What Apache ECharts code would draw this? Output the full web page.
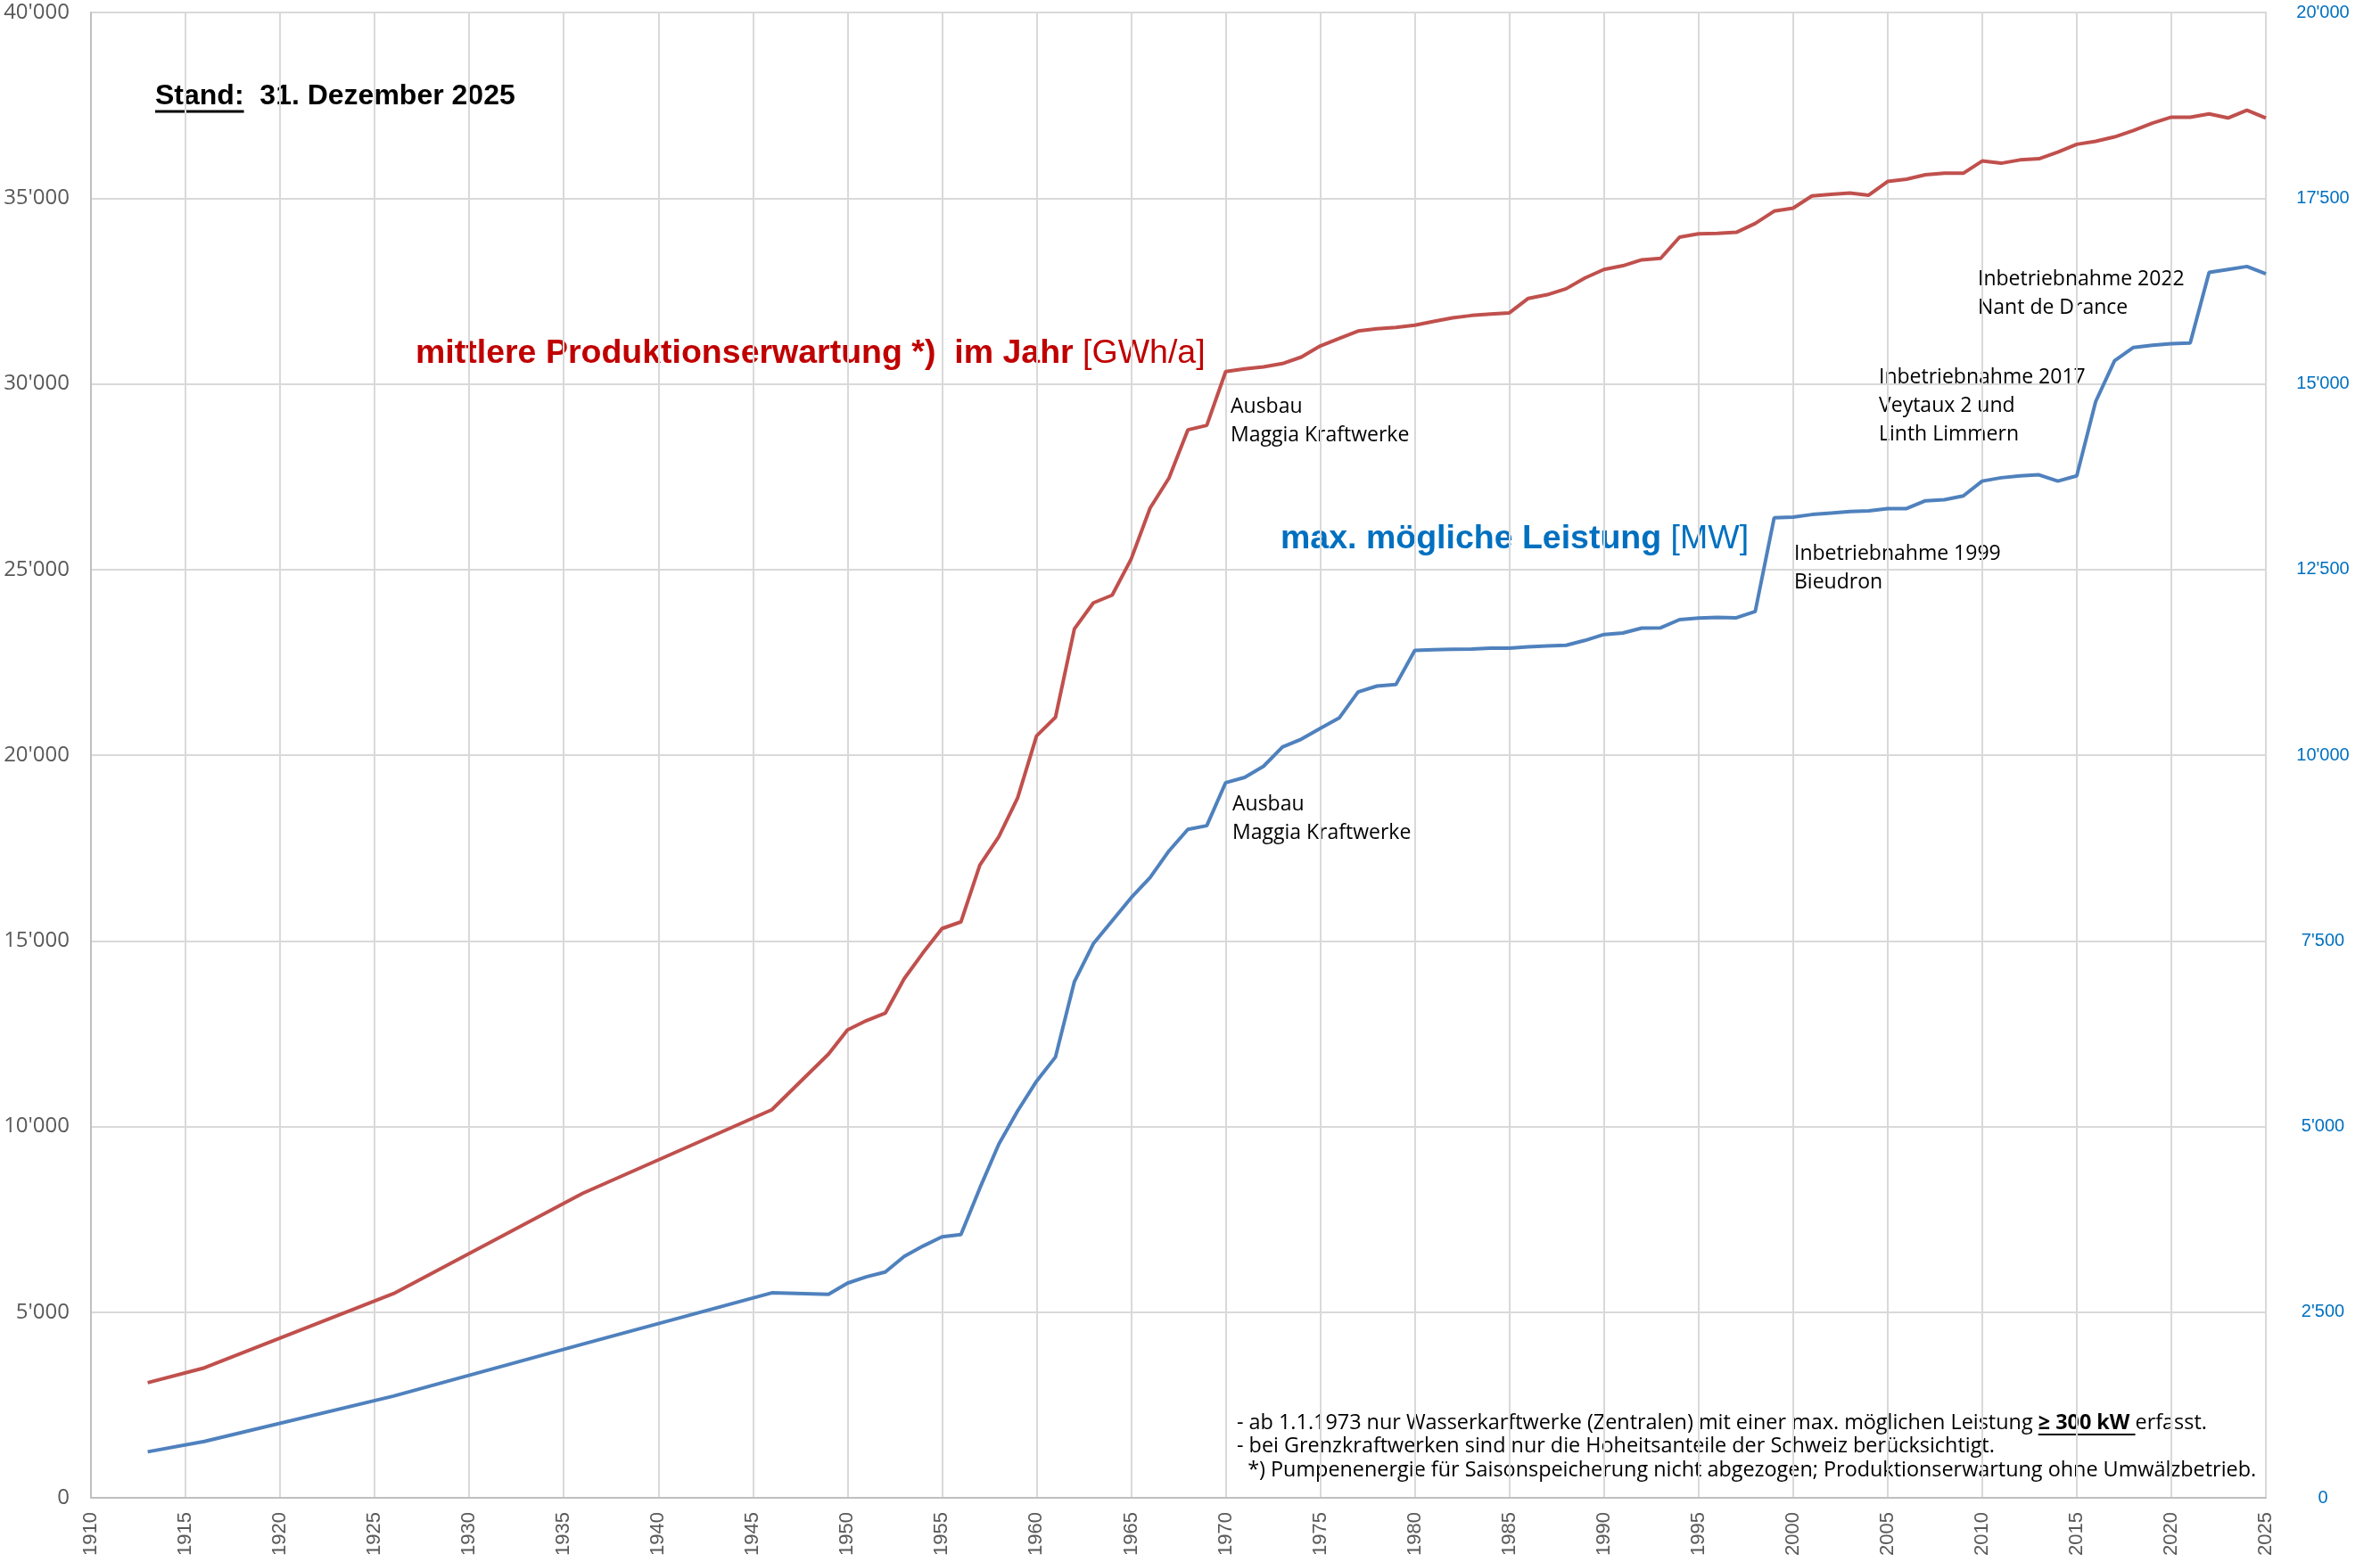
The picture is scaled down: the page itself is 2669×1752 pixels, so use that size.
<!DOCTYPE html>
<html>
<head>
<meta charset="utf-8">
<script src="https://cdn.jsdelivr.net/npm/echarts@6/dist/echarts.min.js"></script>
<style>
  html, body { margin: 0; padding: 0; background: #fff; }
  #chart { width: 2669px; height: 1752px; }
</style>
</head>
<body>
<div id="chart"></div>
<script>
// Jahre (bis 1946 nur Stützjahre, ab 1949 jährlich)
var years = [1913, 1916, 1926, 1936, 1946, 1949,
  1950, 1951, 1952, 1953, 1954, 1955, 1956, 1957, 1958, 1959,
  1960, 1961, 1962, 1963, 1964, 1965, 1966, 1967, 1968, 1969,
  1970, 1971, 1972, 1973, 1974, 1975, 1976, 1977, 1978, 1979,
  1980, 1981, 1982, 1983, 1984, 1985, 1986, 1987, 1988, 1989,
  1990, 1991, 1992, 1993, 1994, 1995, 1996, 1997, 1998, 1999,
  2000, 2001, 2002, 2003, 2004, 2005, 2006, 2007, 2008, 2009,
  2010, 2011, 2012, 2013, 2014, 2015, 2016, 2017, 2018, 2019,
  2020, 2021, 2022, 2023, 2024, 2025];

// mittlere Produktionserwartung [GWh/a] (linke Achse)
var produktion = [3100, 3500, 5500, 8200, 10450, 11950,
  12600, 12850, 13050, 13980, 14680, 15330, 15510, 17040, 17800, 18850,
  20520, 21020, 23400, 24100, 24310, 25280, 26650, 27460, 28760, 28880,
  30330, 30400, 30455, 30545, 30720, 31020, 31220, 31420, 31480, 31520,
  31580, 31680, 31775, 31840, 31880, 31910, 32300, 32400, 32560, 32850,
  33080, 33180, 33340, 33380, 33950, 34040, 34050, 34080, 34320, 34650,
  34730, 35060, 35100, 35140, 35080, 35450, 35510, 35630, 35670, 35670,
  36000, 35940, 36030, 36060, 36240, 36450, 36530, 36650, 36820, 37020,
  37180, 37180, 37270, 37160, 37370, 37160];

// max. mögliche Leistung [MW] (rechte Achse)
var leistung = [620, 760, 1370, 2070, 2760, 2740,
  2890, 2975, 3040, 3250, 3390, 3515, 3545, 4170, 4760, 5210,
  5610, 5935, 6950, 7460, 7770, 8080, 8350, 8710, 9000, 9050,
  9630, 9700, 9850, 10110, 10215, 10360, 10500, 10850, 10930, 10950,
  11410, 11420, 11425, 11430, 11440, 11440, 11460, 11470, 11480, 11545,
  11625, 11645, 11710, 11715, 11825, 11845, 11855, 11850, 11935, 13195,
  13205, 13240, 13260, 13280, 13290, 13320, 13320, 13425, 13440, 13490,
  13690, 13735, 13760, 13775, 13690, 13760, 14760, 15310, 15490, 15520,
  15540, 15550, 16500, 16540, 16580, 16480];

var fussnoten = [
  '- ab 1.1.1973 nur Wasserkarftwerke (Zentralen) mit einer max. möglichen Leistung ',
  '≥ 300 kW ',
  'erfasst.',
  '- bei Grenzkraftwerken sind nur die Hoheitsanteile der Schweiz berücksichtigt.',
  '  *) Pumpenenergie für Saisonspeicherung nicht abgezogen; Produktionserwartung ohne Umwälzbetrieb.'
];

function fmt(v) {
    return String(v).replace(/\B(?=(\d{3})+(?!\d))/g, "'");
}

function textWidth(str, font) {
    var ctx = document.createElement('canvas').getContext('2d');
    ctx.font = font;
    return ctx.measureText(str).width;
}

function getChart() {
    var myChart = echarts.init(document.getElementById('chart'));

    var noteFont = '23.4px "Open Sans"';
    var noteFontBold = 'bold 23.4px "Open Sans"';
    var noteX = 1387;
    var ulStart = noteX + textWidth(fussnoten[0], noteFont);
    var ulEnd = ulStart + textWidth(fussnoten[1], noteFontBold);
    var standW = textWidth('Stand:', 'bold 32px "Liberation Sans"');

    var annoStyle = { fill: '#000', font: '23px "Open Sans"', lineHeight: 32 };

    var option = {
        backgroundColor: '#fff',
        animation: false,
        grid: { left: 102, right: 128, top: 14, bottom: 72 },
        xAxis: {
            type: 'value',
            min: 1910,
            max: 2025,
            interval: 5,
            axisLine: { show: true, lineStyle: { color: '#bfbfbf', width: 2 } },
            axisTick: { show: false },
            splitLine: { show: true, lineStyle: { color: '#d9d9d9', width: 2 } },
            axisLabel: {
                rotate: 90,
                margin: 16,
                color: '#595959',
                fontSize: 22,
                fontFamily: 'Liberation Sans',
                formatter: function (v) { return String(v); }
            }
        },
        yAxis: [
            {
                type: 'value',
                position: 'left',
                min: 0,
                max: 40000,
                interval: 5000,
                axisLine: { show: true, lineStyle: { color: '#bfbfbf', width: 2 } },
                axisTick: { show: false },
                splitLine: { show: true, lineStyle: { color: '#d9d9d9', width: 2 } },
                axisLabel: {
                    margin: 24,
                    color: '#595959',
                    fontSize: 24,
                    fontFamily: 'Open Sans',
                    formatter: fmt
                }
            },
            {
                type: 'value',
                position: 'right',
                min: 0,
                max: 20000,
                interval: 2500,
                axisLine: { show: true, lineStyle: { color: '#d9d9d9', width: 2 } },
                axisTick: { show: false },
                splitLine: { show: false },
                axisLabel: {
                    margin: 64,
                    align: 'center',
                    color: '#0070C0',
                    fontSize: 20,
                    fontFamily: 'Liberation Sans',
                    formatter: fmt
                }
            }
        ],
        series: [
            {
                name: 'Produktionserwartung',
                type: 'line',
                yAxisIndex: 0,
                symbol: 'none',
                lineStyle: { color: '#C0504D', width: 4 },
                data: years.map(function (y, i) { return [y, produktion[i]]; })
            },
            {
                name: 'Leistung',
                type: 'line',
                yAxisIndex: 1,
                symbol: 'none',
                lineStyle: { color: '#4F81BD', width: 4 },
                data: years.map(function (y, i) { return [y, leistung[i]]; })
            }
        ],
        graphic: {
            elements: [
                {   // Stand
                    type: 'text', x: 174, y: 108,
                    style: {
                        text: 'Stand:  31. Dezember 2025',
                        font: 'bold 32px "Liberation Sans"',
                        fill: '#000',
                        verticalAlign: 'middle'
                    }
                },
                {
                    type: 'line',
                    shape: { x1: 174, y1: 125, x2: 174 + standW, y2: 125 },
                    style: { stroke: '#000', lineWidth: 3 }
                },
                {   // Titel rot
                    type: 'text', x: 466, y: 397,
                    style: {
                        text: '{b|mittlere Produktionserwartung *)  im Jahr }{n|[GWh/a]}',
                        verticalAlign: 'middle',
                        rich: {
                            b: { font: 'bold 37.5px "Liberation Sans"', fill: '#C00000' },
                            n: { font: '37.5px "Liberation Sans"', fill: '#C00000' }
                        }
                    }
                },
                {   // Titel blau
                    type: 'text', x: 1436, y: 605,
                    style: {
                        text: '{b|max. mögliche Leistung }{n|[MW]}',
                        verticalAlign: 'middle',
                        rich: {
                            b: { font: 'bold 37.5px "Liberation Sans"', fill: '#0070C0' },
                            n: { font: '37.5px "Liberation Sans"', fill: '#0070C0' }
                        }
                    }
                },
                {
                    type: 'text', x: 1380, y: 440,
                    style: Object.assign({ text: 'Ausbau\nMaggia Kraftwerke' }, annoStyle)
                },
                {
                    type: 'text', x: 1382, y: 886,
                    style: Object.assign({ text: 'Ausbau\nMaggia Kraftwerke' }, annoStyle)
                },
                {
                    type: 'text', x: 2012, y: 605,
                    style: Object.assign({ text: 'Inbetriebnahme 1999\nBieudron' }, annoStyle)
                },
                {
                    type: 'text', x: 2107, y: 407,
                    style: Object.assign({ text: 'Inbetriebnahme 2017\nVeytaux 2 und\nLinth Limmern' }, annoStyle)
                },
                {
                    type: 'text', x: 2218, y: 297,
                    style: Object.assign({ text: 'Inbetriebnahme 2022\nNant de Drance' }, annoStyle)
                },
                {   // Fussnoten
                    type: 'text', x: noteX, y: 1596,
                    style: {
                        text: '{n|' + fussnoten[0] + '}{b|' + fussnoten[1] + '}{n|' + fussnoten[2] + '}',
                        verticalAlign: 'middle',
                        rich: {
                            n: { font: noteFont, fill: '#000' },
                            b: { font: noteFontBold, fill: '#000' }
                        }
                    }
                },
                {
                    type: 'line',
                    shape: { x1: ulStart, y1: 1609, x2: ulEnd, y2: 1609 },
                    style: { stroke: '#000', lineWidth: 2 }
                },
                {
                    type: 'text', x: noteX, y: 1622,
                    style: { text: fussnoten[3], font: noteFont, fill: '#000', verticalAlign: 'middle' }
                },
                {
                    type: 'text', x: noteX, y: 1649,
                    style: { text: fussnoten[4], font: noteFont, fill: '#000', verticalAlign: 'middle' }
                }
            ]
        }
    };
    myChart.setOption(option);
}
getChart();
</script>
</body>
</html>
